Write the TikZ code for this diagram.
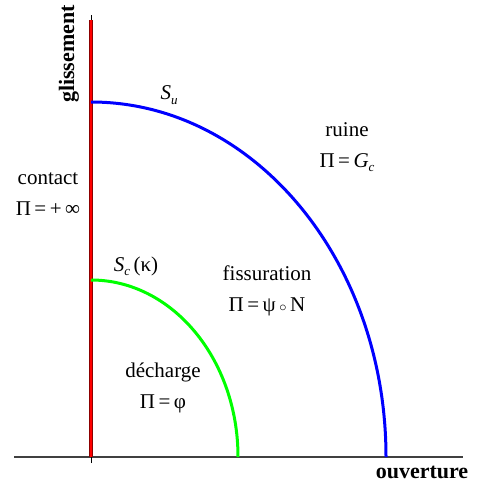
\documentclass[tikz,border=0pt]{standalone}
\usepackage{fontspec}
\setmainfont{Liberation Serif}
\newcommand{\lowsub}[1]{\raisebox{-0.45ex}{\fontsize{13}{13}\selectfont\itshape #1}}

\begin{document}
\begin{tikzpicture}[x=1pt,y=-1pt,font=\fontsize{21}{23}\selectfont,
 axe/.style={line width=1.2pt,black!75},
 seuil/.style={line width=3pt},
 titre/.style={font=\fontsize{22}{24}\selectfont\bfseries},
 zone/.style={align=center,inner sep=1pt}]
\useasboundingbox (0,0) rectangle (476,486);
% axes
\coordinate (o) at (91,457);
\coordinate (xend) at (463,457);
\coordinate (xbeg) at (14,457);
\coordinate (ytop) at (91,15);
\coordinate (ybot) at (91,463);
\draw[axe] (xbeg)--(xend);
\draw[line width=1pt,black] (ybot)--(ytop);
\draw[line width=3.2pt,red!55!black] (o)--(91,20);
\draw[line width=1.6pt,red] (o)--(91,20);
% seuils
\draw[seuil,blue] (91,102) arc[start angle=-90,end angle=0,x radius=295,y radius=355];
\draw[seuil,green] (91,280) arc[start angle=-90,end angle=0,x radius=147,y radius=177];
% labels
\node[titre,rotate=90] (gliss) at (69,54) {glissement};
\node[titre] (ouv) at (422,472) {ouverture};
\node (su) at (169,95) {\textit{S}\lowsub{u}};
\node (sc) at (136,266) {\textit{S}\lowsub{c}\,(κ)};
\node[zone] (contact) at (48,194) {contact\\[8pt]Π\,=\,+\,∞};
\node[zone] (ruine) at (347,147) {ruine\\[8pt]Π\,=\,\textit{G}\lowsub{c}};
\node[zone] (fiss) at (267,291) {fissuration\\[8pt]Π\,=\,ψ\,$\scriptstyle\circ$\,N};
\node[zone] (dech) at (163,388) {décharge\\[8pt]Π\,=\,φ};
\end{tikzpicture}
\end{document}
